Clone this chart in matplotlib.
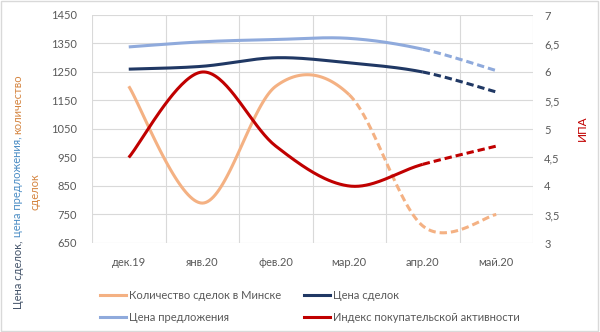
import numpy as np
import matplotlib
matplotlib.use("Agg")
import matplotlib.pyplot as plt
from matplotlib.lines import Line2D
from matplotlib.patches import Rectangle

plt.rcParams['font.family'] = ['Lato', 'DejaVu Sans']

# data
months = ['дек.19', 'янв.20', 'фев.20', 'мар.20', 'апр.20', 'май.20']
deals_count = [1200, 790, 1200, 1170, 710, 750]      # left axis
deal_price = [1260, 1270, 1300, 1282, 1250, 1180]    # left axis
offer_price = [1338, 1356, 1364, 1368, 1330, 1255]   # left axis
ipa = [4.5, 6.0, 4.7, 4.0, 4.38, 4.7]                # right axis

TICK = '#595959'
GRID = '#D9D9D9'


def smooth(y, n=40):
    # excel-style smoothed line (bezier through the points)
    y = np.asarray(y, dtype=float)
    x = np.arange(len(y), dtype=float)
    segs = []
    for i in range(len(y) - 1):
        i0 = max(i - 1, 0)
        i3 = min(i + 2, len(y) - 1)
        t = np.linspace(0, 1, n)
        px = [x[i], x[i] + (x[i + 1] - x[i0]) / 6, x[i + 1] - (x[i3] - x[i]) / 6, x[i + 1]]
        py = [y[i], y[i] + (y[i + 1] - y[i0]) / 6, y[i + 1] - (y[i3] - y[i]) / 6, y[i + 1]]
        b = [(1 - t) ** 3, 3 * (1 - t) ** 2 * t, 3 * (1 - t) * t ** 2, t ** 3]
        sx = sum(b[k] * px[k] for k in range(4))
        sy = sum(b[k] * py[k] for k in range(4))
        segs.append((sx, sy))
    return segs


def draw(ax, y, color, split):
    segs = smooth(y)
    sx = np.concatenate([s[0] for s in segs[:split]])
    sy = np.concatenate([s[1] for s in segs[:split]])
    ax.plot(sx, sy, color=color, lw=2.2, solid_capstyle='butt', zorder=3)
    dx = np.concatenate([s[0] for s in segs[split:]])
    dy = np.concatenate([s[1] for s in segs[split:]])
    ax.plot(dx, dy, color=color, lw=2.2, dashes=(2.4, 1.3), dash_capstyle='butt', zorder=3)


fig = plt.figure(figsize=(6, 3.32), dpi=100)
ax = fig.add_axes([92 / 600, 1 - 243 / 332, 441 / 600, 228 / 332])
ax2 = ax.twinx()

ax.set_xlim(-0.5, 5.5)
ax.set_ylim(650, 1450)
ax.set_yticks(np.arange(650, 1451, 100))
ax2.set_ylim(3, 7)
ax2.set_yticks(np.arange(3, 7.01, 0.5))
ax2.set_yticklabels([f'{v:g}'.replace('.', ',') for v in np.arange(3, 7.01, 0.5)])

ax.set_xticks(range(len(months)))
ax.set_xticklabels(months)
ax.set_xticks(np.arange(-0.5, 5.6, 1), minor=True)
ax.grid(True, which='major', axis='y', color=GRID, lw=0.8)
ax.grid(True, which='minor', axis='x', color=GRID, lw=0.8)
ax.set_axisbelow(True)

for a in (ax, ax2):
    for s in a.spines.values():
        s.set_visible(False)
    a.tick_params(length=0, labelsize=8, colors=TICK)
ax.tick_params(axis='x', which='both', length=0, pad=10)
ax.tick_params(axis='y', pad=11)
ax2.tick_params(axis='y', pad=8)

draw(ax, offer_price, '#8FAADC', 4)
draw(ax, deal_price, '#203864', 4)
draw(ax, deals_count, '#F4B183', 3)
draw(ax2, ipa, '#C00000', 4)

# legend
handles = [Line2D([], [], color='#F4B183', lw=2.2),
           Line2D([], [], color='#8FAADC', lw=2.2),
           Line2D([], [], color='#203864', lw=2.2),
           Line2D([], [], color='#C00000', lw=2.2)]
labels = ['Количество сделок в Минске', 'Цена предложения',
          'Цена сделок', 'Индекс покупательской активности']
fig.legend(handles, labels, ncol=2, loc='upper left', bbox_to_anchor=(90 / 600, 1 - 280 / 332),
           frameon=False, fontsize=8, labelcolor=TICK, handlelength=2.3, handletextpad=0.3,
           columnspacing=2.1, labelspacing=1.0)

# right label
fig.text(582 / 600, 1 - 128 / 332, 'ИПА', rotation=90, color='#C00000', fontsize=8.5,
         ha='center', va='center')

# left multi-coloured label
fig.canvas.draw()
renderer = fig.canvas.get_renderer()
pieces = [('Цена сделок, ', '#44546A'), ('цена предложения, ', '#4A8CC4'), ('количество', '#D4843F')]
texts = []
total = 0
for s, c in pieces:
    t = fig.text(18 / 600, 0, s, rotation=90, color=c, fontsize=8, ha='center', va='bottom')
    h = t.get_window_extent(renderer).height / fig.bbox.height
    texts.append((t, h))
    total += h
y = (1 - 191.5 / 332) - total / 2
for t, h in texts:
    t.set_y(y)
    y += h
fig.text(35 / 600, 1 - 191.5 / 332, 'сделок', rotation=90, color='#D4843F', fontsize=8,
         ha='center', va='center')

fig.patches.append(Rectangle((0.002, 0.003), 0.995, 0.993, transform=fig.transFigure,
                             fill=False, edgecolor=GRID, lw=1))

fig.savefig('out.png', dpi=100)
